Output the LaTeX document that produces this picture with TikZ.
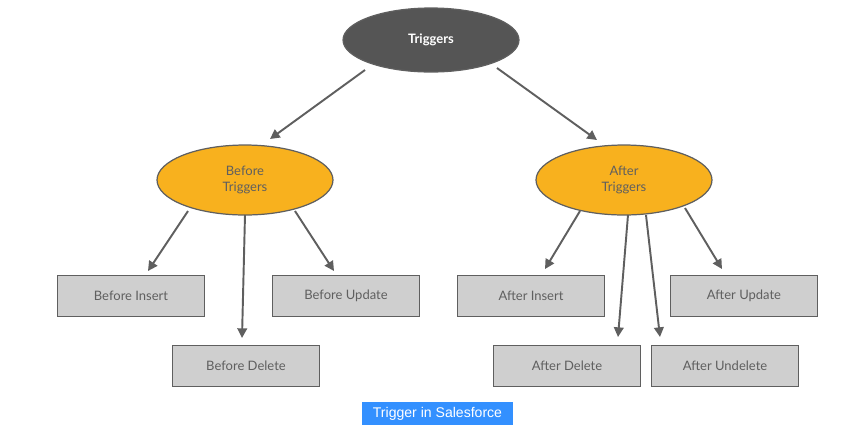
\documentclass[tikz,border=0pt]{standalone}
\usepackage{fontspec}
\setmainfont{Lato}
\usetikzlibrary{arrows.meta,shapes.geometric,positioning}
\definecolor{darkoval}{HTML}{555555}
\definecolor{orangeoval}{HTML}{F8B11E}
\definecolor{boxgray}{HTML}{CFCFCF}
\definecolor{linegray}{HTML}{5F5F5F}
\definecolor{capblue}{HTML}{3390FF}
\begin{document}
\begin{tikzpicture}[x=0.02cm,y=-0.02cm,
  font=\fontsize{7.4}{8.6}\selectfont,
  link/.style={-{Triangle[width=5.5pt,length=5.5pt]},draw=linegray,fill=linegray,line width=1.1pt}]

\tikzstyle{oval}=[ellipse,draw=linegray,line width=0.7pt,text=linegray,align=center]
\tikzstyle{trig}=[rectangle,draw=linegray,line width=0.7pt,fill=boxgray,text=linegray,
  minimum width=2.94cm,minimum height=0.82cm]

\useasboundingbox (0,0) rectangle (863,434);

% top
\node[oval,fill=darkoval,text=white,minimum width=3.52cm,minimum height=1.28cm]
(top) at (431,40) {\bfseries Triggers};

% second level
\node[oval,fill=orangeoval,minimum width=3.52cm,minimum height=1.4cm]
(bt) at (245,180) {Before\\Triggers};
\node[oval,fill=orangeoval,minimum width=3.52cm,minimum height=1.4cm]
(at) at (624,180) {After\\Triggers};

% leaves
\node[trig] (bi) at (131,296) {Before Insert};
\node[trig] (bu) at (346,296) {Before Update};
\node[trig] (bd) at (246,366) {Before Delete};
\node[trig] (ai) at (531,296) {After Insert};
\node[trig] (au) at (744,296) {After Update};
\node[trig] (ad) at (567,366) {After Delete};
\node[trig] (aud) at (725,366) {After Undelete};

% arrow ends
\coordinate (e1) at (270,139);
\coordinate (e2) at (597,140);
\coordinate (e3) at (148,271);
\coordinate (e4) at (242,338);
\coordinate (e5) at (334,271);
\coordinate (e6) at (545,269);
\coordinate (e7) at (618,337);
\coordinate (e8) at (660,337);
\coordinate (e9) at (722,269);

\draw[link] (365,70) -- (e1);
\draw[link] (497,68) -- (e2);
\draw[link] (188,211) -- (e3);
\draw[link] (245,215) -- (e4);
\draw[link] (295,211) -- (e5);
\draw[link] (580,211) -- (e6);
\draw[link] (628,215) -- (e7);
\draw[link] (646,215) -- (e8);
\draw[link] (685,208) -- (e9);

% caption
\node[fill=capblue,text=white,inner sep=1.5pt,minimum width=3.02cm,minimum height=0.46cm,
  font=\fontspec{Liberation Sans}\fontsize{8}{9}\selectfont]
(cap) at (437.5,413.5) {Trigger in Salesforce};

\end{tikzpicture}
\end{document}
